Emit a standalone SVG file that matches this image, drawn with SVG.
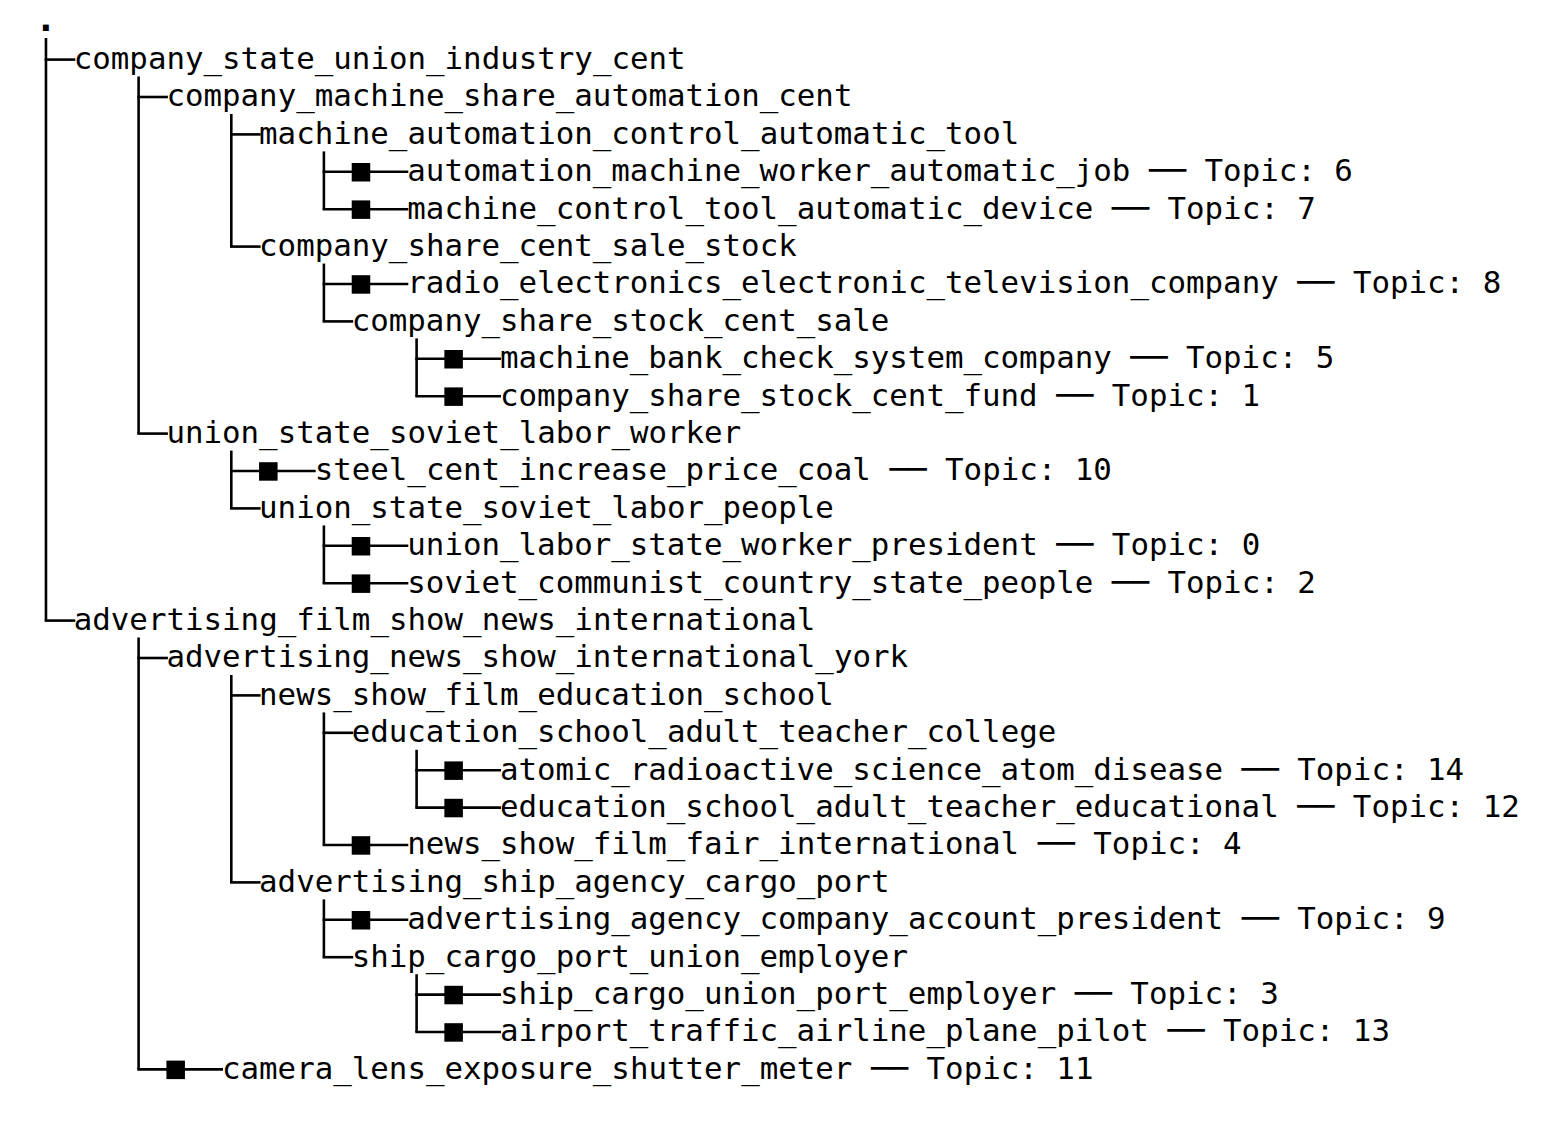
<svg xmlns="http://www.w3.org/2000/svg" width="1564" height="1136" viewBox="0 0 1564 1136">
<style>
text{font-family:"DejaVu Sans Mono","Liberation Mono",monospace;font-size:30.8px;fill:#000}
.c line,.c path{stroke:#000;stroke-width:2.6;fill:none}
.sq{fill:#000}
</style>
<rect width="1564" height="1136" fill="#fff"/>
<g class="c" id="connectors">
<!-- verticals -->
<line x1="45.97" y1="38" x2="45.97" y2="620.6"/>
<line x1="138.6" y1="76.6" x2="138.6" y2="433.6"/>
<line x1="231.3" y1="114" x2="231.3" y2="246.6"/>
<line x1="323.9" y1="151.4" x2="323.9" y2="209.2"/>
<line x1="323.9" y1="263.6" x2="323.9" y2="321.4"/>
<line x1="416.6" y1="338.4" x2="416.6" y2="396.2"/>
<line x1="231.3" y1="450.6" x2="231.3" y2="508.4"/>
<line x1="323.9" y1="525.4" x2="323.9" y2="583.2"/>
<line x1="138.6" y1="637.6" x2="138.6" y2="1069.4"/>
<line x1="231.3" y1="675" x2="231.3" y2="882.4"/>
<line x1="323.9" y1="712.4" x2="323.9" y2="845"/>
<line x1="416.6" y1="749.8" x2="416.6" y2="807.6"/>
<line x1="323.9" y1="899.4" x2="323.9" y2="957.2"/>
<line x1="416.6" y1="974.2" x2="416.6" y2="1032"/>
<!-- horizontals -->
<line x1="44.67" y1="59.6" x2="75.3" y2="59.6"/>
<line x1="137.3" y1="97" x2="167.9" y2="97"/>
<line x1="230" y1="134.4" x2="260.6" y2="134.4"/>
<line x1="322.6" y1="171.8" x2="408.3" y2="171.8"/>
<line x1="322.6" y1="209.2" x2="408.3" y2="209.2"/>
<line x1="230" y1="246.6" x2="260.6" y2="246.6"/>
<line x1="322.6" y1="284" x2="408.3" y2="284"/>
<line x1="322.6" y1="321.4" x2="353.2" y2="321.4"/>
<line x1="415.3" y1="358.8" x2="501" y2="358.8"/>
<line x1="415.3" y1="396.2" x2="501" y2="396.2"/>
<line x1="137.3" y1="433.6" x2="167.9" y2="433.6"/>
<line x1="230" y1="471" x2="315.7" y2="471"/>
<line x1="230" y1="508.4" x2="260.6" y2="508.4"/>
<line x1="322.6" y1="545.8" x2="408.3" y2="545.8"/>
<line x1="322.6" y1="583.2" x2="408.3" y2="583.2"/>
<line x1="44.67" y1="620.6" x2="75.3" y2="620.6"/>
<line x1="137.3" y1="658" x2="167.9" y2="658"/>
<line x1="230" y1="695.4" x2="260.6" y2="695.4"/>
<line x1="322.6" y1="732.8" x2="353.2" y2="732.8"/>
<line x1="415.3" y1="770.2" x2="501" y2="770.2"/>
<line x1="415.3" y1="807.6" x2="501" y2="807.6"/>
<line x1="322.6" y1="845" x2="408.3" y2="845"/>
<line x1="230" y1="882.4" x2="260.6" y2="882.4"/>
<line x1="322.6" y1="919.8" x2="408.3" y2="919.8"/>
<line x1="322.6" y1="957.2" x2="353.2" y2="957.2"/>
<line x1="415.3" y1="994.6" x2="501" y2="994.6"/>
<line x1="415.3" y1="1032" x2="501" y2="1032"/>
<line x1="137.3" y1="1069.4" x2="223" y2="1069.4"/>
</g>
<g id="root"><text x="35" y="30.5" style="font-size:36px;font-weight:bold">.</text></g>
<g id="n1"><text x="73.76" y="68.9">company_state_union_industry_cent</text></g>
<g id="n2"><text x="166.41" y="106.3">company_machine_share_automation_cent</text></g>
<g id="n3"><text x="259.06" y="143.7">machine_automation_control_automatic_tool</text></g>
<g id="n4"><rect class="sq" x="351.71" y="163" width="18.53" height="18.5"/><text x="407.3" y="181.1">automation_machine_worker_automatic_job ── Topic: 6</text></g>
<g id="n5"><rect class="sq" x="351.71" y="200.4" width="18.53" height="18.5"/><text x="407.3" y="218.5">machine_control_tool_automatic_device ── Topic: 7</text></g>
<g id="n6"><text x="259.06" y="255.9">company_share_cent_sale_stock</text></g>
<g id="n7"><rect class="sq" x="351.71" y="275.2" width="18.53" height="18.5"/><text x="407.3" y="293.3">radio_electronics_electronic_television_company ── Topic: 8</text></g>
<g id="n8"><text x="351.71" y="330.7">company_share_stock_cent_sale</text></g>
<g id="n9"><rect class="sq" x="444.36" y="350" width="18.53" height="18.5"/><text x="499.95" y="368.1">machine_bank_check_system_company ── Topic: 5</text></g>
<g id="n10"><rect class="sq" x="444.36" y="387.4" width="18.53" height="18.5"/><text x="499.95" y="405.5">company_share_stock_cent_fund ── Topic: 1</text></g>
<g id="n11"><text x="166.41" y="442.9">union_state_soviet_labor_worker</text></g>
<g id="n12"><rect class="sq" x="259.06" y="462.2" width="18.53" height="18.5"/><text x="314.65" y="480.3">steel_cent_increase_price_coal ── Topic: 10</text></g>
<g id="n13"><text x="259.06" y="517.7">union_state_soviet_labor_people</text></g>
<g id="n14"><rect class="sq" x="351.71" y="537" width="18.53" height="18.5"/><text x="407.3" y="555.1">union_labor_state_worker_president ── Topic: 0</text></g>
<g id="n15"><rect class="sq" x="351.71" y="574.4" width="18.53" height="18.5"/><text x="407.3" y="592.5">soviet_communist_country_state_people ── Topic: 2</text></g>
<g id="n16"><text x="73.76" y="629.9">advertising_film_show_news_international</text></g>
<g id="n17"><text x="166.41" y="667.3">advertising_news_show_international_york</text></g>
<g id="n18"><text x="259.06" y="704.7">news_show_film_education_school</text></g>
<g id="n19"><text x="351.71" y="742.1">education_school_adult_teacher_college</text></g>
<g id="n20"><rect class="sq" x="444.36" y="761.4" width="18.53" height="18.5"/><text x="499.95" y="779.5">atomic_radioactive_science_atom_disease ── Topic: 14</text></g>
<g id="n21"><rect class="sq" x="444.36" y="798.8" width="18.53" height="18.5"/><text x="499.95" y="816.9">education_school_adult_teacher_educational ── Topic: 12</text></g>
<g id="n22"><rect class="sq" x="351.71" y="836.2" width="18.53" height="18.5"/><text x="407.3" y="854.3">news_show_film_fair_international ── Topic: 4</text></g>
<g id="n23"><text x="259.06" y="891.7">advertising_ship_agency_cargo_port</text></g>
<g id="n24"><rect class="sq" x="351.71" y="911" width="18.53" height="18.5"/><text x="407.3" y="929.1">advertising_agency_company_account_president ── Topic: 9</text></g>
<g id="n25"><text x="351.71" y="966.5">ship_cargo_port_union_employer</text></g>
<g id="n26"><rect class="sq" x="444.36" y="985.8" width="18.53" height="18.5"/><text x="499.95" y="1003.9">ship_cargo_union_port_employer ── Topic: 3</text></g>
<g id="n27"><rect class="sq" x="444.36" y="1023.2" width="18.53" height="18.5"/><text x="499.95" y="1041.3">airport_traffic_airline_plane_pilot ── Topic: 13</text></g>
<g id="n28"><rect class="sq" x="166.41" y="1060.6" width="18.53" height="18.5"/><text x="222" y="1078.7">camera_lens_exposure_shutter_meter ── Topic: 11</text></g>
</svg>
